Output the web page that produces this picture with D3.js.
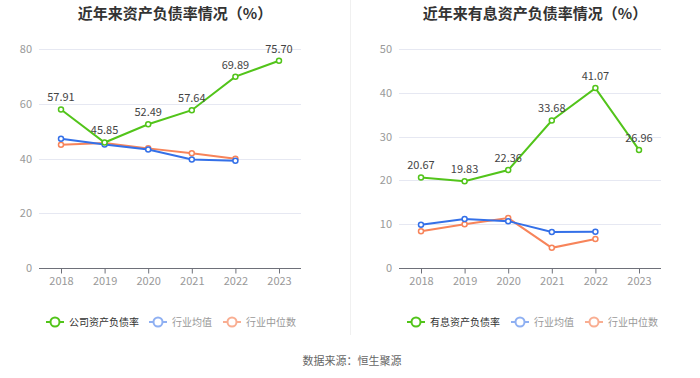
<!DOCTYPE html>
<html><head><meta charset="utf-8">
<script src="https://cdn.jsdelivr.net/npm/d3@7"></script>
<style>body{margin:0;background:#fff;font-family:"Noto Sans CJK SC","Noto Sans",sans-serif;}</style>
</head><body><svg id="c" width="700" height="378"></svg>
<script>
const years = ["2018","2019","2020","2021","2022","2023"];
const leftTitle = "近年来资产负债率情况（%）";
const rightTitle = "近年来有息资产负债率情况（%）";
const leftCompany = [57.91, 45.85, 52.49, 57.64, 69.89, 75.70];
const leftAvg = [47.2, 45.1, 43.3, 39.6, 39.2];
const leftMedian = [45.0, 45.7, 43.7, 41.9, 39.9];
const rightCompany = [20.67, 19.83, 22.36, 33.68, 41.07, 26.96];
const rightAvg = [9.9, 11.2, 10.7, 8.2, 8.3];
const rightMedian = [8.4, 10.0, 11.4, 4.6, 6.6];
const leftTicks = [0, 20, 40, 60, 80];
const rightTicks = [0, 10, 20, 30, 40, 50];
const leftLegend = ["公司资产负债率", "行业均值", "行业中位数"];
const rightLegend = ["有息资产负债率", "行业均值", "行业中位数"];
const source = "数据来源：恒生聚源";

const GREEN = "#52c41a", BLUE = "#3470e8", ORANGE = "#f7845a";
const svg = d3.select("#c");

// divider
svg.append("line").attr("x1",350.5).attr("x2",350.5).attr("y1",0).attr("y2",335)
  .attr("stroke","#f0f0f0").attr("stroke-width",1);

function panel(ox, title, company, avg, med, ticks, ymax, legend) {
  const g = svg.append("g");
  g.append("text").attr("x", ox + 175).attr("y", 19).attr("text-anchor","middle")
    .attr("font-size", 15).attr("font-weight","bold").attr("fill","#333").text(title);
  const x = d3.scalePoint().domain(years).range([ox + 61, ox + 279]);
  const y = d3.scaleLinear().domain([0, ymax]).range([268, 49]);
  // grid
  g.selectAll(".grid").data(ticks.filter(t=>t>0)).enter().append("line")
    .attr("x1", ox + 39).attr("x2", ox + 301)
    .attr("y1", d=>Math.round(y(d))+0.5).attr("y2", d=>Math.round(y(d))+0.5)
    .attr("stroke","#e6e8f2").attr("stroke-width",1);
  // y tick labels
  g.selectAll(".yl").data(ticks).enter().append("text")
    .attr("x", ox + 32).attr("y", d=>y(d)+4).attr("text-anchor","end")
    .attr("font-size",11).attr("fill","#999").text(d=>d);
  // x axis
  const ax = g.append("g").attr("transform",`translate(0,${268.5})`)
    .call(d3.axisBottom(x).tickSize(5).tickPadding(4));
  ax.select(".domain").attr("d", `M${ox+39},0H${ox+301}`).attr("stroke","#6e7079");
  ax.selectAll(".tick line").attr("stroke","#6e7079");
  ax.selectAll(".tick text").attr("font-size",11).attr("fill","#999")
    .attr("font-family",'"Noto Sans CJK SC","Noto Sans",sans-serif');

  function series(data, color) {
    const line = d3.line().x((d,i)=>x(years[i])).y(d=>y(d));
    g.append("path").datum(data).attr("d", line).attr("fill","none")
      .attr("stroke", color).attr("stroke-width", 2);
    g.selectAll(null).data(data).enter().append("circle")
      .attr("cx",(d,i)=>x(years[i])).attr("cy",d=>y(d)).attr("r",2.5)
      .attr("fill","#fff").attr("stroke",color).attr("stroke-width",1.5);
  }
  series(med, ORANGE);
  series(avg, BLUE);
  series(company, GREEN);
  g.selectAll(null).data(company).enter().append("text")
    .attr("x",(d,i)=>x(years[i])).attr("y",d=>y(d)-8).attr("text-anchor","middle")
    .attr("font-size",11).attr("fill","#444").text(d=>d.toFixed(2));

  // legend
  const lx = ox === 0 ? [46, 149, 223] : [407, 511, 585];
  const lcols = [GREEN, "#8fb0f2", "#f9ae92"];
  const tcols = ["#333", "#999", "#999"];
  legend.forEach((t,i)=>{
    const lg = g.append("g").attr("transform",`translate(${lx[i]},322)`);
    lg.append("line").attr("x1",0).attr("x2",18).attr("y1",0).attr("y2",0)
      .attr("stroke",lcols[i]).attr("stroke-width",2);
    lg.append("circle").attr("cx",9).attr("cy",0).attr("r",4.5).attr("fill","#fff")
      .attr("stroke",lcols[i]).attr("stroke-width",2);
    lg.append("text").attr("x",23).attr("y",3.5).attr("font-size",10).attr("fill",tcols[i]).text(t);
  });
}
panel(0, leftTitle, leftCompany, leftAvg, leftMedian, leftTicks, 80, leftLegend);
panel(360, rightTitle, rightCompany, rightAvg, rightMedian, rightTicks, 50, rightLegend);

svg.append("text").attr("x",352).attr("y",365).attr("text-anchor","middle")
  .attr("font-size",11).attr("fill","#666").text(source);
</script></body></html>
